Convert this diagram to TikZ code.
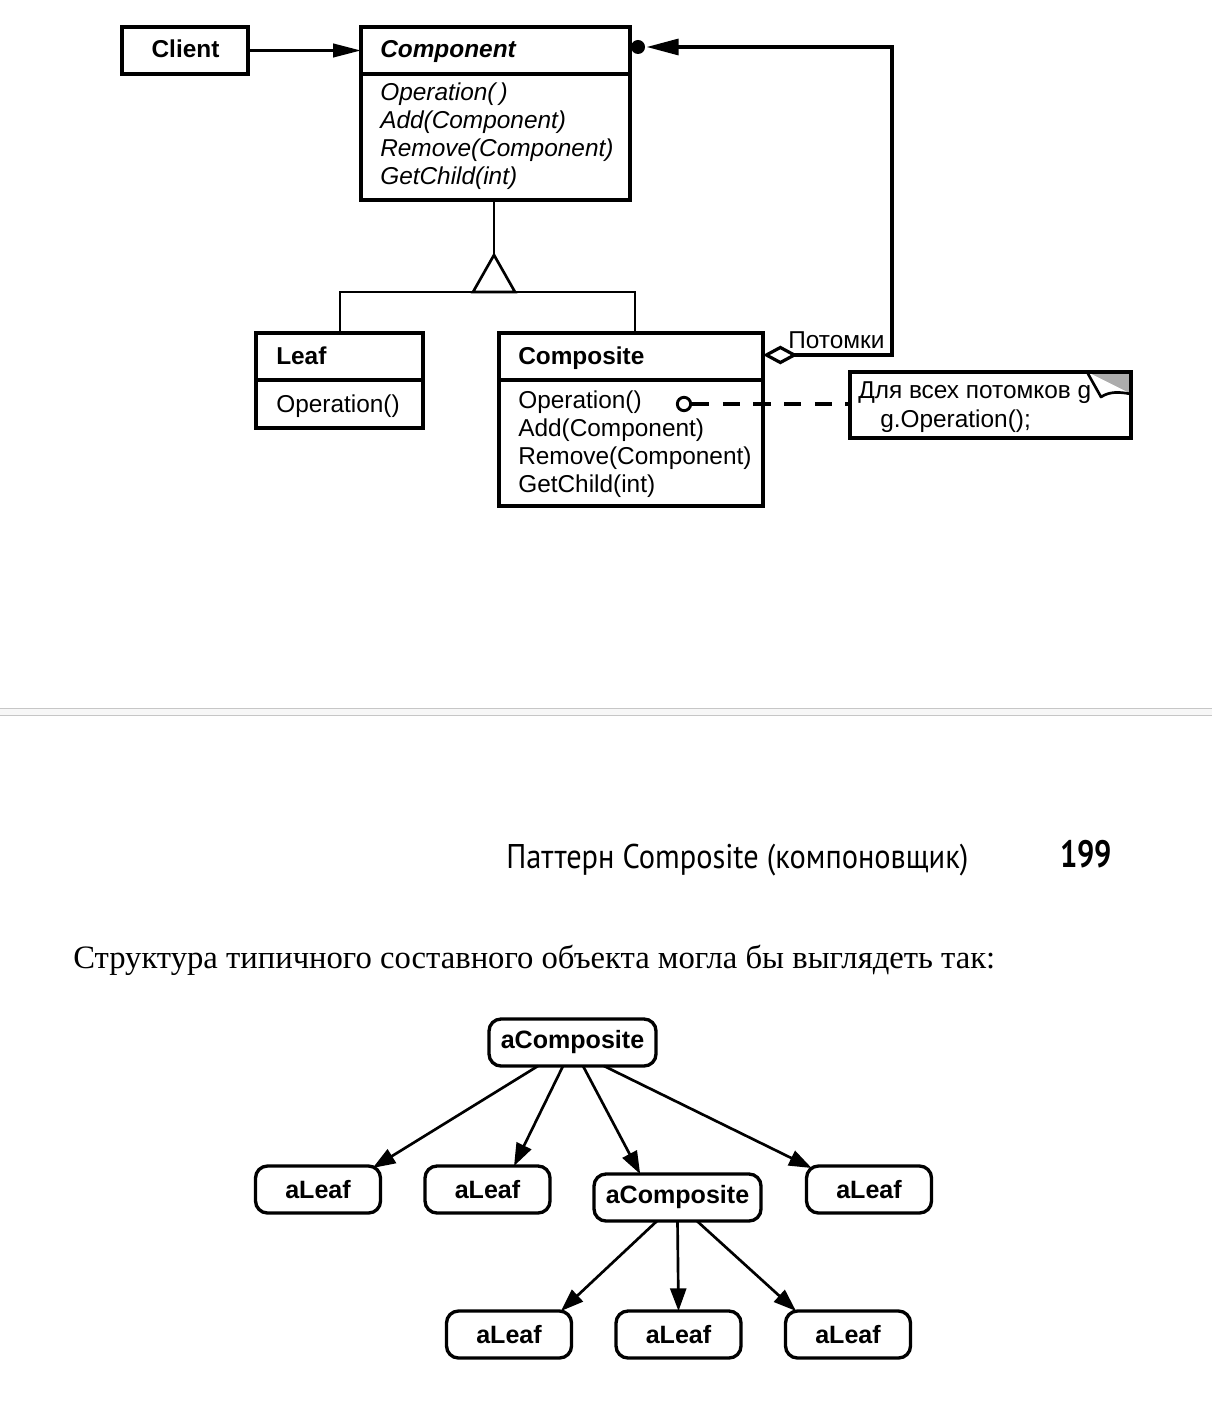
\documentclass[tikz,border=0pt]{standalone}
\usepackage{fontspec}
\usepackage{graphicx}
\setmainfont{Liberation Sans}
\newfontfamily\hdrfont{PT Sans}
\newfontfamily\bodyserif{Liberation Serif}
\usetikzlibrary{arrows.meta}
\newcommand\umlfont{\fontsize{18.3pt}{21pt}\selectfont}
\begin{document}
\begin{tikzpicture}[x=0.75pt,y=-0.75pt,
  umlbox/.style={draw, line width=2.6pt, inner sep=0pt, outer sep=0pt, anchor=north west},
  txt/.style={inner sep=0pt, anchor=base west, font=\umlfont},
  thinln/.style={line width=2pt},
  conn/.style={line width=2.4pt},
  tnode/.style={draw, line width=2.5pt, rounded corners=9pt, minimum height=35.25pt, inner sep=0pt, outer sep=0pt, font=\bfseries\fontsize{18.8pt}{20pt}\selectfont},
  leafnode/.style={tnode, minimum width=93.75pt},
  compnode/.style={tnode, minimum width=125.25pt},
  tarrow/.style={line width=2pt, -{Triangle[length=17pt,width=12pt]}}
]
\useasboundingbox (0,0) rectangle (1212,1408);

% ---------- UML class diagram ----------
\node[umlbox, minimum width=94.5pt, minimum height=35.25pt] (client) at (122,27) {};
\node[txt, anchor=base, font=\umlfont\bfseries] (clientlbl) at (185.5,58) {Client};

\node[umlbox, minimum width=201.75pt, minimum height=129.75pt] (comp) at (361,27) {};
\draw[line width=2.6pt] (361,74) -- (630,74);
\node[txt, font=\umlfont\bfseries\itshape] (complbl) at (380,58) {Component};
\node[txt, font=\umlfont\itshape] (cm1) at (380,101) {Operation(\,)};
\node[txt, font=\umlfont\itshape] (cm2) at (380,129) {Add(Component)};
\node[txt, font=\umlfont\itshape] (cm3) at (380,157) {Remove(Component)};
\node[txt, font=\umlfont\itshape] (cm4) at (380,185) {GetChild(int)};

\draw[conn, -{Triangle[length=21pt,width=10pt]}] (client.east) -- (client.east -| comp.west);

\node[umlbox, minimum width=125.25pt, minimum height=71.25pt] (leaf) at (256,333) {};
\draw[line width=2.6pt] (256,380) -- (423,380);
\node[txt, font=\umlfont\bfseries] (leaflbl) at (276,364) {Leaf};
\node[txt] (lm1) at (276,412) {Operation()};

\node[umlbox, minimum width=198pt, minimum height=129.75pt] (compo) at (499,333) {};
\draw[line width=2.6pt] (499,380) -- (763,380);
\node[txt, font=\umlfont\bfseries] (compolbl) at (518,364) {Composite};
\node[txt] (om1) at (518,408) {Operation()};
\node[txt] (om2) at (518,436) {Add(Component)};
\node[txt] (om3) at (518,464) {Remove(Component)};
\node[txt] (om4) at (518,492) {GetChild(int)};

% inheritance
\coordinate (apex) at (494,255);
\coordinate (bl) at (473,292);
\coordinate (br) at (515,292);
\draw[thinln] (comp.south -| apex) -- (apex);
\draw[thinln, line join=miter] (apex) -- (bl) -- (br) -- cycle;
\draw[thinln] (leaf.north -| 340,0) -- (340,292) -- (635,292) -- (compo.north -| 635,0);

% aggregation
\node[circle, fill, inner sep=0pt, minimum size=10.5pt] (dot) at (638,47) {};
\coordinate (agg) at ([yshift=-16.5pt]compo.north east);
\coordinate (corner) at (892,47);
\draw[conn, line join=miter, {Diamond[open,length=26pt,width=14pt]}-{Triangle[length=24pt,width=12pt]}]
  (agg) -| (corner) -- ([xshift=1pt]dot.east);
\node[txt] (potomki) at (788,349) {Потомки};

% note
\node[umlbox, minimum width=210.75pt, minimum height=49.5pt] (note) at (850,372) {};
\fill[gray!65] (1087,372) -- (1131,372) -- (1131,394) -- cycle;
\filldraw[fill=white, line width=2pt, line join=round] (1087,372) -- (1101,397) .. controls (1110,391) and (1120,392) .. (1131,394);
\draw[line width=2.6pt] (850,372) -- (1131,372) -- (1131,438);
\node[txt] (n1) at (858,398) {Для всех потомков g};
\node[txt] (n2) at (880,427) {g.Operation();};

\node[circle, draw, fill=white, line width=2.2pt, inner sep=0pt, minimum size=10pt] (oc) at (684,404) {};
\draw[line width=2.6pt, dash pattern=on 13pt off 10pt] (oc.east) -- (oc.east -| note.west);

% ---------- page separator ----------
\fill[gray!6] (0,708) rectangle (1212,715);
\draw[gray!45, line width=0.75pt] (0,708) -- (1212,708);
\draw[gray!45, line width=0.75pt] (0,715) -- (1212,715);

% ---------- header ----------
\node[inner sep=0pt, anchor=base west] (hdr) at (506,868)
  {\resizebox{346.5pt}{\height}{\hdrfont\fontsize{25.7pt}{26pt}\selectfont Паттерн Composite (компоновщик)}};
\node[inner sep=0pt, anchor=base west] (pgnum) at (1060,867)
  {\resizebox{39pt}{\height}{\hdrfont\bfseries\fontsize{28.6pt}{29pt}\selectfont 199}};

\node[inner sep=0pt, anchor=base west] (body) at (73,968)
  {\resizebox{691.5pt}{\height}{\bodyserif\fontsize{24.5pt}{25pt}\selectfont Структура типичного составного объекта могла бы выглядеть так:}};

% ---------- object tree ----------
\node[compnode] (top) at (572.5,1042.5) {aComposite};
\node[leafnode] (l1) at (318,1189.5) {aLeaf};
\node[leafnode] (l2) at (487.5,1189.5) {aLeaf};
\node[compnode] (c2) at (677.5,1197.5) {aComposite};
\node[leafnode] (l4) at (869,1189.5) {aLeaf};
\node[leafnode] (b1) at (509,1334.5) {aLeaf};
\node[leafnode] (b2) at (678.5,1334.5) {aLeaf};
\node[leafnode] (b3) at (848,1334.5) {aLeaf};

\draw[tarrow] ([xshift=-25.9pt]top.south) -- ([xshift=41pt,yshift=-1.5pt]l1.north);
\draw[tarrow] ([xshift=-7.1pt]top.south) -- ([xshift=19.9pt]l2.north);
\draw[tarrow] ([xshift=7.9pt]top.south) -- ([xshift=-28pt]c2.north);
\draw[tarrow] ([xshift=23.6pt]top.south) -- ([xshift=-43pt,yshift=-1.5pt]l4.north);
\draw[tarrow] ([xshift=-15.4pt]c2.south) -- ([xshift=39pt]b1.north);
\draw[tarrow] (c2.south) -- (b2.north);
\draw[tarrow] ([xshift=14.6pt]c2.south) -- ([xshift=-39pt]b3.north);
\end{tikzpicture}
\end{document}
